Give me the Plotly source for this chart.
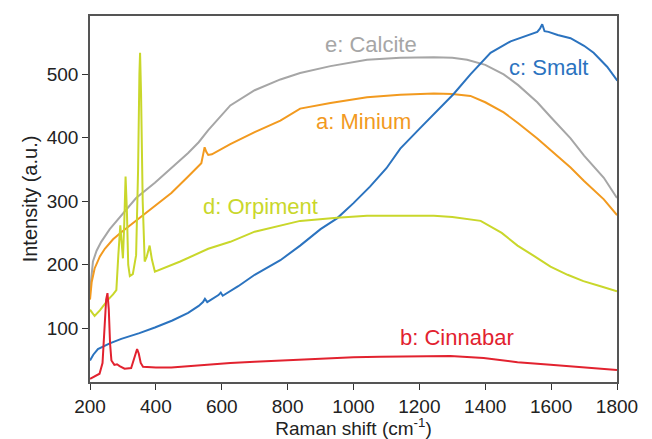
import plotly.graph_objects as go

# ---- data ----
calcite_x = [200, 205, 209, 220, 234, 260, 295, 340, 397, 450, 498, 530, 559, 626, 700, 778, 838, 930, 1041, 1142, 1244, 1300, 1345, 1400, 1456, 1500, 1558, 1600, 1659, 1700, 1760, 1800]
calcite_y = [158, 190, 205, 222, 236, 256, 277, 305, 329, 353, 376, 393, 412, 451, 475, 492, 502, 513, 523, 526, 527, 526, 523, 515, 500, 483, 456, 432, 399, 372, 337, 305]

minium_x = [200, 205, 214, 230, 245, 270, 295, 346, 392, 447, 498, 538, 544, 548, 553, 559, 570, 626, 700, 778, 838, 930, 1041, 1142, 1244, 1300, 1355, 1400, 1456, 1500, 1558, 1600, 1659, 1700, 1760, 1800]
minium_y = [145, 172, 194, 213, 225, 240, 251, 272, 290, 313, 339, 360, 375, 385, 378, 373, 374, 390, 409, 427, 446, 455, 464, 468, 470, 469, 466, 456, 440, 423, 399, 380, 353, 332, 303, 278]

smalt_x = [200, 210, 224, 260, 295, 350, 397, 450, 498, 530, 543, 549, 556, 590, 597, 603, 650, 700, 778, 838, 900, 950, 1000, 1050, 1100, 1142, 1200, 1250, 1304, 1355, 1416, 1477, 1520, 1558, 1566, 1573, 1580, 1592, 1620, 1659, 1700, 1729, 1770, 1801]
smalt_y = [49, 58, 67, 76, 83, 92, 101, 112, 124, 135, 141, 146, 141, 152, 156, 151, 166, 184, 207, 230, 256, 273, 297, 323, 352, 383, 414, 441, 469, 500, 534, 552, 560, 567, 572, 579, 568, 567, 562, 557, 545, 534, 512, 490]

orpiment_x = [200, 207, 214, 230, 255, 270, 280, 286, 292, 296, 300, 304, 308, 312, 316, 321, 330, 340, 346, 350, 352, 355, 360, 366, 372, 381, 388, 397, 474, 559, 626, 700, 778, 838, 950, 1041, 1142, 1244, 1300, 1386, 1450, 1498, 1550, 1598, 1650, 1698, 1750, 1800]
orpiment_y = [129, 124, 119, 128, 145, 153, 160, 215, 262, 235, 210, 265, 339, 285, 200, 182, 185, 215, 350, 500, 534, 470, 300, 205, 212, 230, 208, 189, 205, 225, 236, 252, 262, 269, 274, 277, 277, 277, 275, 269, 250, 230, 213, 197, 184, 174, 166, 158]

cinnabar_x = [200, 215, 229, 238, 244, 249, 253, 257, 261, 265, 274, 282, 290, 305, 325, 334, 339, 343, 348, 354, 361, 400, 447, 559, 626, 700, 778, 850, 930, 1000, 1081, 1233, 1294, 1395, 1498, 1598, 1700, 1800]
cinnabar_y = [20, 24, 28, 45, 95, 145, 155, 130, 75, 49, 42, 43, 40, 36, 37, 52, 63, 67, 60, 45, 39, 38, 38, 43, 45, 47, 49, 51, 53, 54, 55, 56, 56, 53, 46, 42, 38, 34]

x_ticks = [200, 400, 600, 800, 1000, 1200, 1400, 1600, 1800]
y_ticks = [100, 200, 300, 400, 500]

series = [
    ("e: Calcite", calcite_x, calcite_y, "#a6a6a6", 1054, 547),
    ("a: Minium", minium_x, minium_y, "#f29a1f", 1030, 425),
    ("c: Smalt", smalt_x, smalt_y, "#2b73bf", 1592, 511),
    ("d: Orpiment", orpiment_x, orpiment_y, "#c9d72b", 717, 292),
    ("b: Cinnabar", cinnabar_x, cinnabar_y, "#e2222f", 1313, 85),
]

FONT = "Liberation Sans, Arial, Helvetica"

fig = go.Figure()
for name, xs, ys, col, lx, ly in series:
    fig.add_trace(go.Scatter(x=xs, y=ys, mode="lines", name=name,
                             line=dict(color=col, width=2)))
    fig.add_annotation(x=lx, y=ly, text=name, showarrow=False,
                       font=dict(color=col, size=22, family=FONT))

fig.update_layout(
    width=644, height=431,
    margin=dict(l=82, r=35, t=6, b=54),
    paper_bgcolor="white", plot_bgcolor="white",
    showlegend=False,
    font=dict(family=FONT, size=19, color="#222"),
)
fig.update_xaxes(range=[200, 1800], tickvals=x_ticks, ticks="outside", ticklen=6,
                 tickcolor="#333", showline=True, linecolor="#555", linewidth=1.5,
                 mirror=True, showgrid=False, zeroline=False,
                 tickfont=dict(size=19),
                 title=dict(text="Raman shift (cm<sup>-1</sup>)", standoff=3, font=dict(size=19)))
fig.update_yaxes(range=[15, 592], tickvals=y_ticks, ticks="outside", ticklen=6,
                 tickcolor="#333", showline=True, linecolor="#555", linewidth=1.5,
                 mirror=True, showgrid=False, zeroline=False,
                 tickfont=dict(size=19),
                 title=dict(text="Intensity (a.u.)", standoff=4, font=dict(size=20)))

fig.write_html("out.html")
